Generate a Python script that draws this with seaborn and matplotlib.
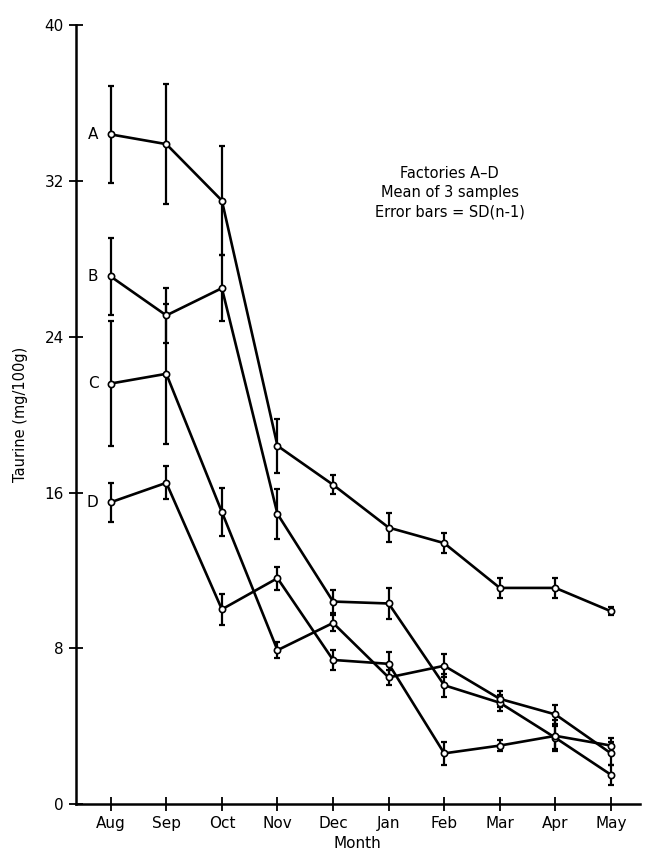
import matplotlib
matplotlib.use("Agg")
import matplotlib.pyplot as plt
import seaborn as sns
import pandas as pd
import numpy as np

months = ['Aug', 'Sep', 'Oct', 'Nov', 'Dec', 'Jan', 'Feb', 'Mar', 'Apr', 'May']
factories = ['A', 'B', 'C', 'D']
A = [34.4, 33.9, 31.0, 18.4, 16.4, 14.2, 13.4, 11.1, 11.1, 9.9]
A_sd = [2.5, 3.1, 2.8, 1.4, 0.5, 0.75, 0.5, 0.5, 0.5, 0.2]
B = [27.1, 25.1, 26.5, 14.9, 10.4, 10.3, 6.1, 5.2, 3.4, 1.5]
B_sd = [2.0, 1.4, 1.7, 1.3, 0.6, 0.8, 0.6, 0.4, 0.6, 0.5]
C = [21.6, 22.1, 15.0, 7.9, 9.3, 6.5, 7.1, 5.4, 4.6, 2.6]
C_sd = [3.2, 3.6, 1.25, 0.4, 0.4, 0.4, 0.6, 0.4, 0.5, 0.6]
D = [15.5, 16.5, 10.0, 11.6, 7.4, 7.2, 2.6, 3.0, 3.5, 3.0]
D_sd = [1.0, 0.85, 0.8, 0.6, 0.5, 0.6, 0.6, 0.3, 0.8, 0.4]

values = {'A': A, 'B': B, 'C': C, 'D': D}
sds = {'A': A_sd, 'B': B_sd, 'C': C_sd, 'D': D_sd}

rows = []
for f in factories:
    for i, m in enumerate(months):
        rows.append({'Factory': f, 'x': i, 'Month': m, 'Taurine': values[f][i], 'SD': sds[f][i]})
df = pd.DataFrame(rows)

sns.set_style("ticks")
plt.rcParams['font.family'] = ['DejaVu Sans']
plt.rcParams['text.color'] = 'black'
plt.rcParams['axes.labelcolor'] = 'black'

fig = plt.figure(figsize=(6.47, 8.67), dpi=100)
ax = fig.add_axes([0.117, 0.0727, 0.872, 0.898])

for f in factories:
    sub = df[df['Factory'] == f]
    ax.errorbar(sub['x'], sub['Taurine'], yerr=sub['SD'], fmt='none',
                ecolor='black', elinewidth=1.6, capsize=2.2, capthick=1.6, zorder=2)

sns.lineplot(data=df, x='x', y='Taurine', hue='Factory',
             palette=['black'] * 4, linewidth=1.9, marker='o', markersize=4.5,
             markerfacecolor='white', markeredgecolor='black', markeredgewidth=1.2,
             legend=False, ax=ax, zorder=3)

# Series labels at the left
for f in factories:
    ax.text(-0.22, values[f][0], f, ha='right', va='center', fontsize=11, color='black')

ax.text(6.1, 32.4, 'Factories A\u2013D', ha='center', va='center', fontsize=10.5, color='black')
ax.text(6.1, 31.4, 'Mean of 3 samples', ha='center', va='center', fontsize=10.5, color='black')
ax.text(6.1, 30.4, 'Error bars = SD(n-1)', ha='center', va='center', fontsize=10.5, color='black')

ax.set_xlim(-0.63, 9.52)
ax.set_ylim(0, 40)
ax.set_yticks([0, 8, 16, 24, 32, 40])
ax.set_xticks(range(len(months)))
ax.set_xticklabels(months)
ax.tick_params(axis='both', direction='inout', length=10, width=1.3, labelsize=11,
               colors='black', labelcolor='black')
ax.set_xlabel('Month', fontsize=11, labelpad=4, color='black')
ax.set_ylabel('Taurine (mg/100g)', fontsize=10.5, labelpad=12, color='black')
sns.despine(ax=ax)
for s in ['left', 'bottom']:
    ax.spines[s].set_linewidth(1.8)
    ax.spines[s].set_color('black')

fig.savefig('out.png', dpi=100, facecolor='white')
